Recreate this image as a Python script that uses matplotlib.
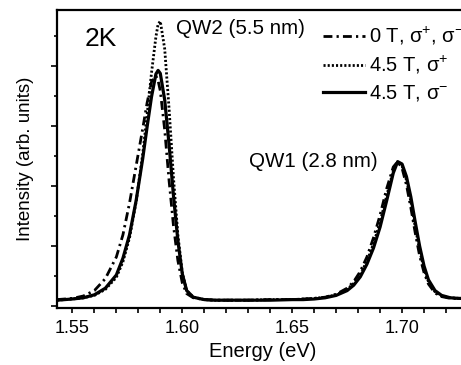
import matplotlib
matplotlib.use("Agg")
import matplotlib.pyplot as plt
from matplotlib.ticker import MultipleLocator, NullFormatter

plt.rcParams["font.family"] = ["Liberation Sans", "DejaVu Sans"]
plt.rcParams["mathtext.fontset"] = "custom"
plt.rcParams["mathtext.rm"] = "Liberation Sans"

## Data (energy in eV, intensity in arb. units)
energy = [1.543, 1.550, 1.555, 1.560, 1.565, 1.570, 1.573, 1.576, 1.579, 1.582,
          1.584, 1.586, 1.588, 1.589, 1.590, 1.592, 1.594, 1.596, 1.598, 1.600,
          1.602, 1.605, 1.610,
          1.615, 1.620, 1.630, 1.640, 1.650, 1.655, 1.660, 1.665, 1.670, 1.675,
          1.678, 1.681, 1.684, 1.687, 1.690, 1.693, 1.696, 1.698, 1.700, 1.702,
          1.704, 1.706, 1.708, 1.710, 1.712, 1.715, 1.718, 1.722, 1.726, 1.730]

int_0T = [0.10, 0.12, 0.16, 0.25, 0.45, 0.81, 1.18, 1.71, 2.33, 2.95,
          3.38, 3.73, 3.83, 3.75, 3.58, 2.93, 2.08, 1.33, 0.75, 0.38,
          0.20, 0.13, 0.10,
          0.09, 0.09, 0.09, 0.10, 0.10, 0.11, 0.12, 0.14, 0.19, 0.29,
          0.40, 0.57, 0.81, 1.13, 1.51, 1.95, 2.31, 2.40, 2.29, 2.01,
          1.63, 1.21, 0.83, 0.55, 0.36, 0.21, 0.15, 0.12, 0.12, 0.12]

int_sp = [0.09, 0.11, 0.13, 0.17, 0.27, 0.47, 0.73, 1.13, 1.73, 2.53,
          3.18, 3.88, 4.48, 4.69, 4.74, 4.28, 3.28, 2.13, 1.18, 0.55,
          0.25, 0.14, 0.10,
          0.09, 0.09, 0.09, 0.10, 0.10, 0.11, 0.12, 0.14, 0.18, 0.27,
          0.37, 0.52, 0.74, 1.03, 1.39, 1.83, 2.25, 2.39, 2.33, 2.09,
          1.73, 1.31, 0.92, 0.61, 0.40, 0.23, 0.16, 0.13, 0.12, 0.12]

int_sm = [0.09, 0.11, 0.13, 0.18, 0.29, 0.51, 0.79, 1.18, 1.75, 2.45,
          2.98, 3.48, 3.86, 3.92, 3.87, 3.43, 2.68, 1.83, 1.08, 0.53,
          0.25, 0.14, 0.10,
          0.09, 0.09, 0.09, 0.09, 0.10, 0.10, 0.11, 0.13, 0.17, 0.25,
          0.34, 0.48, 0.69, 0.96, 1.31, 1.75, 2.21, 2.40, 2.36, 2.15,
          1.81, 1.39, 0.99, 0.66, 0.43, 0.25, 0.17, 0.13, 0.12, 0.12]

labels = [r"0 T, σ$^{+}$, σ$^{-}$", r"4.5 T, σ$^{+}$", r"4.5 T, σ$^{-}$"]

## Plot
W, H = 461, 365
fig = plt.figure(figsize=(W / 100, H / 100), dpi=100)
ax = fig.add_axes([57 / W, 1 - 308 / H, 411 / W, 298 / H])

ax.plot(energy, int_0T, color="black", lw=2.0, dashes=(3.2, 1.5, 0.8, 1.5), label=labels[0])
ax.plot(energy, int_sp, color="black", lw=2.0, dashes=(0.75, 0.75), label=labels[1])
ax.plot(energy, int_sm, color="black", lw=2.3, label=labels[2])

ax.set_xlim(1.543, 1.730)
ax.set_ylim(-0.04, 4.927)

for s in ax.spines.values():
    s.set_linewidth(1.6)

ax.xaxis.set_major_locator(MultipleLocator(0.05))
ax.xaxis.set_minor_locator(MultipleLocator(0.01))
ax.yaxis.set_major_locator(MultipleLocator(1.0))
ax.yaxis.set_minor_locator(MultipleLocator(0.5))
ax.yaxis.set_major_formatter(NullFormatter())
ax.tick_params(axis="x", which="both", direction="out", length=3.5, width=1.2,
               labelsize=13, pad=5)
ax.tick_params(axis="y", which="major", direction="out", length=4, width=1.2)
ax.tick_params(axis="y", which="minor", direction="out", length=2, width=1.2)
ax.tick_params(top=False, right=False)
ax.xaxis.set_major_formatter(plt.FuncFormatter(lambda v, p: "%.2f" % v))

ax.set_xlabel("Energy (eV)", fontsize=14.5, labelpad=4)
ax.set_ylabel("Intensity (arb. units)", fontsize=13.5, labelpad=9)

ax.text(1.5557, 4.45, "2K", fontsize=19, ha="left", va="center")
ax.text(1.5971, 4.62, "QW2 (5.5 nm)", fontsize=14.8, ha="left", va="center")
ax.text(1.6303, 2.41, "QW1 (2.8 nm)", fontsize=14.8, ha="left", va="center")

leg = ax.legend(loc="upper left", bbox_to_anchor=(323 / W, 1 - 25 / H),
                bbox_transform=fig.transFigure, frameon=False, fontsize=14.5,
                handlelength=2.1, handletextpad=0.2, labelspacing=0.35,
                borderpad=0, borderaxespad=0)

fig.savefig("out.png", dpi=100)
